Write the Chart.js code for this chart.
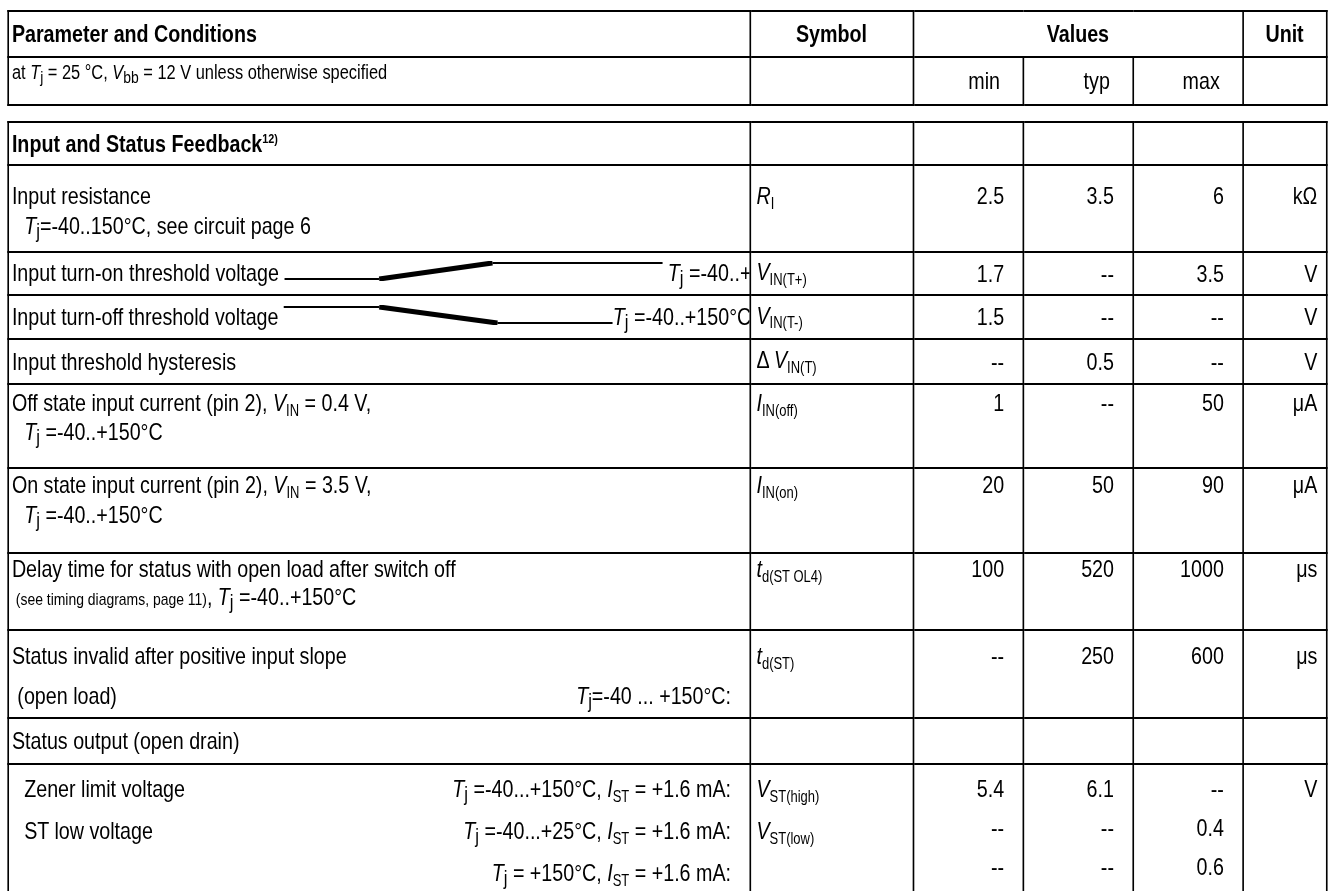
<!DOCTYPE html>
<html>
<head>
<meta charset="utf-8">
<script src="https://cdn.jsdelivr.net/npm/chart.js@4.4.0/dist/chart.umd.min.js"></script>
<style>
html, body { margin: 0; padding: 0; background: #fff; }
body { width: 1329px; height: 891px; overflow: hidden; position: relative;
  font-family: "Liberation Sans Narrow", "Arial Narrow", "Liberation Sans", Arial, sans-serif;
  font-size: 24px; color: #000; }
/* the source uses a narrow face: squeeze the whole sheet horizontally */
#wrap { position: absolute; left: 0; top: 0; width: 1621px; height: 891px; transform: scaleX(0.82); transform-origin: 0 0; }
table { position: absolute; left: 8.5px; border-collapse: collapse; table-layout: fixed; width: 1608px; }
td { border-style: solid; border-color: #000; border-width: 2px 2.5px; padding: 0; overflow: hidden; white-space: nowrap; vertical-align: top; line-height: 26px; }
td.p { padding-left: 4px; }
td.v { text-align: right; padding-right: 22px; }
td.u { text-align: right; padding-right: 10px; }
td.sym { padding-left: 7px; }
.hd td { font-weight: bold; vertical-align: middle; text-align: center; }
.hd td.p { text-align: left; }
.small { font-size: 20px; }
.tiny { font-size: 17px; }
.j { font-size: 85%; position: relative; top: .22em; }
.s { font-size: 66%; position: relative; top: .3em; }
sup { font-size: 55%; line-height: 0; }
.ind { padding-left: 15px; }
.line { display: flex; justify-content: space-between; padding-right: 22px; }
</style>
</head>
<body>
<div id="wrap">
<table id="head"></table>
<table id="body"></table>
</div>
<script>
// header texts
const colHeads = ['Parameter and Conditions', 'Symbol', 'Values', 'Unit'];
const subHeads = ['<span class="small">at <i>T</i><span class="j">j</span> = 25 °C, <i>V</i><span class="j">bb</span> = 12 V unless otherwise specified</span>', '', 'min', 'typ', 'max', ''];
const section = 'Input and Status Feedback<sup>12)</sup>';

const tj = '<i>T</i><span class="j">j</span>';
const params = [
  ['Input resistance', '<span class="ind">' + tj + '=-40..150°C, see circuit page 6</span>'],
  ['Input turn-on threshold voltage {RAMP_ON}&nbsp;' + tj + ' =-40..+'],
  ['Input turn-off threshold voltage {RAMP_OFF}' + tj + ' =-40..+150°C'],
  ['Input threshold hysteresis'],
  ['Off state input current (pin 2), <i>V</i><span class="s">IN</span> = 0.4 V,', '<span class="ind">' + tj + ' =-40..+150°C</span>'],
  ['On state input current (pin 2), <i>V</i><span class="s">IN</span> = 3.5 V,', '<span class="ind">' + tj + ' =-40..+150°C</span>'],
  ['Delay time for status with open load after switch off', '<span class="tiny">&nbsp;(see timing diagrams, page 11)</span>, ' + tj + ' =-40..+150°C'],
  ['Status invalid after positive input slope', ['&nbsp;(open load)', tj + '=-40 ... +150°C:']],
  ['Status output (open drain)'],
  [['<span class="ind">Zener limit voltage</span>', tj + ' =-40...+150°C, <i>I</i><span class="s">ST</span> = +1.6 mA:'],
   ['<span class="ind">ST low voltage</span>', tj + ' =-40...+25°C, <i>I</i><span class="s">ST</span> = +1.6 mA:'],
   ['', tj + ' = +150°C, <i>I</i><span class="s">ST</span> = +1.6 mA:']]
];
const symbols = [
  ['<i>R</i><span class="s">I</span>'], ['<i>V</i><span class="s">IN(T+)</span>'], ['<i>V</i><span class="s">IN(T-)</span>'],
  ['Δ <i>V</i><span class="s">IN(T)</span>'], ['<i>I</i><span class="s">IN(off)</span>'], ['<i>I</i><span class="s">IN(on)</span>'],
  ['<i>t</i><span class="s">d(ST OL4)</span>'], ['<i>t</i><span class="s">d(ST)</span>'], [''],
  ['<i>V</i><span class="s">ST(high)</span>', '<i>V</i><span class="s">ST(low)</span>', '']
];
const minVals = [['2.5'], ['1.7'], ['1.5'], ['--'], ['1'], ['20'], ['100'], ['--'], [''], ['5.4', '--', '--']];
const typVals = [['3.5'], ['--'], ['--'], ['0.5'], ['--'], ['50'], ['520'], ['250'], [''], ['6.1', '--', '--']];
const maxVals = [['6'], ['3.5'], ['--'], ['--'], ['50'], ['90'], ['1000'], ['600'], [''], ['--', '0.4', '0.6']];
const units = [['kΩ'], ['V'], ['V'], ['V'], ['μA'], ['μA'], ['μs'], ['μs'], [''], ['V', '', '']];

// threshold sketches: time steps and level (0 low, 1 high)
const rampOnX = [0, 25, 55, 100];
const rampOnY = [0, 0, 1, 1];
const rampOffX = [0, 29, 65, 100];
const rampOffY = [1, 1, 0, 0];

// layout (unsqueezed px)
const colW = [905, 199, 134, 134, 134, 102];
const headTop = 10, headRows = [46, 48];
const bodyTop = 121;
const rowH = [43, 87, 43, 44, 45, 84, 85, 77, 87, 46, 150];
const padTop = [null, 15, null, null, null, 5, 2, 1, 5, null, 4];
const lineH = [26, 30, 26, 26, 26, 26, 27, 28, 40, 26, 39];

function cols() {
  return '<colgroup>' + colW.map(w => '<col style="width:' + w + 'px">').join('') + '</colgroup>';
}

let head = document.getElementById('head');
head.style.top = headTop + 'px';
head.innerHTML = cols() +
  '<tr class="hd" style="height:' + headRows[0] + 'px"><td class="p">' + colHeads[0] + '</td><td>' + colHeads[1] +
  '</td><td colspan="3">' + colHeads[2] + '</td><td>' + colHeads[3] + '</td></tr>' +
  '<tr style="height:' + headRows[1] + 'px"><td class="p" style="line-height:24px;padding-top:1px">' + subHeads[0] + '</td><td></td>' +
  subHeads.slice(2, 5).map(t => '<td class="v" style="vertical-align:middle;padding-right:27px">' + t + '</td>').join('') +
  '<td></td></tr>';

function lines(list) {
  return list.map(l => Array.isArray(l)
    ? '<div class="line"><span>' + l[0] + '</span><span>' + l[1] + '</span></div>'
    : '<div>' + l + '</div>').join('');
}

let html = cols() + '<tr style="height:' + rowH[0] + 'px"><td class="p" style="font-weight:bold;vertical-align:middle">' + section +
  '</td><td></td><td></td><td></td><td></td><td></td></tr>';
for (let i = 0; i < params.length; i++) {
  let r = i + 1;
  let st = 'line-height:' + lineH[r] + 'px;' + (padTop[r] === null ? 'vertical-align:middle;' : 'padding-top:' + padTop[r] + 'px;');
  let p = lines(params[i])
    .replace('{RAMP_ON}', '<canvas id="rampOn" width="461" height="20" style="display:inline-block;vertical-align:baseline"></canvas>')
    .replace('{RAMP_OFF}', '<canvas id="rampOff" width="401" height="20" style="display:inline-block;vertical-align:baseline"></canvas>');
  html += '<tr style="height:' + rowH[r] + 'px">' +
    '<td class="p" style="' + st + '">' + p + '</td>' +
    '<td class="sym" style="' + st + '">' + lines(symbols[i]) + '</td>' +
    '<td class="v" style="' + st + '">' + lines(minVals[i]) + '</td>' +
    '<td class="v" style="' + st + '">' + lines(typVals[i]) + '</td>' +
    '<td class="v" style="' + st + '">' + lines(maxVals[i]) + '</td>' +
    '<td class="u" style="' + st + '">' + lines(units[i]) + '</td></tr>';
}
let body = document.getElementById('body');
body.style.top = bodyTop + 'px';
body.innerHTML = html;

function ramp(id, xs, ys) {
  new Chart(document.getElementById(id), {
    type: 'line',
    data: {
      datasets: [{
        data: xs.map((x, i) => ({ x: x, y: ys[i] })),
        borderColor: '#000',
        borderWidth: 2,
        pointRadius: 0,
        tension: 0,
        segment: { borderWidth: ctx => ctx.p0DataIndex === 1 ? 5 : 2 }
      }]
    },
    options: {
      responsive: false,
      animation: false,
      events: [],
      layout: { padding: 0 },
      plugins: { legend: { display: false }, tooltip: { enabled: false } },
      scales: {
        x: { type: 'linear', display: false, min: 0, max: 100 },
        y: { display: false, min: -0.12, max: 1.12 }
      }
    }
  });
}
ramp('rampOn', rampOnX, rampOnY);
ramp('rampOff', rampOffX, rampOffY);
</script>
</body>
</html>
